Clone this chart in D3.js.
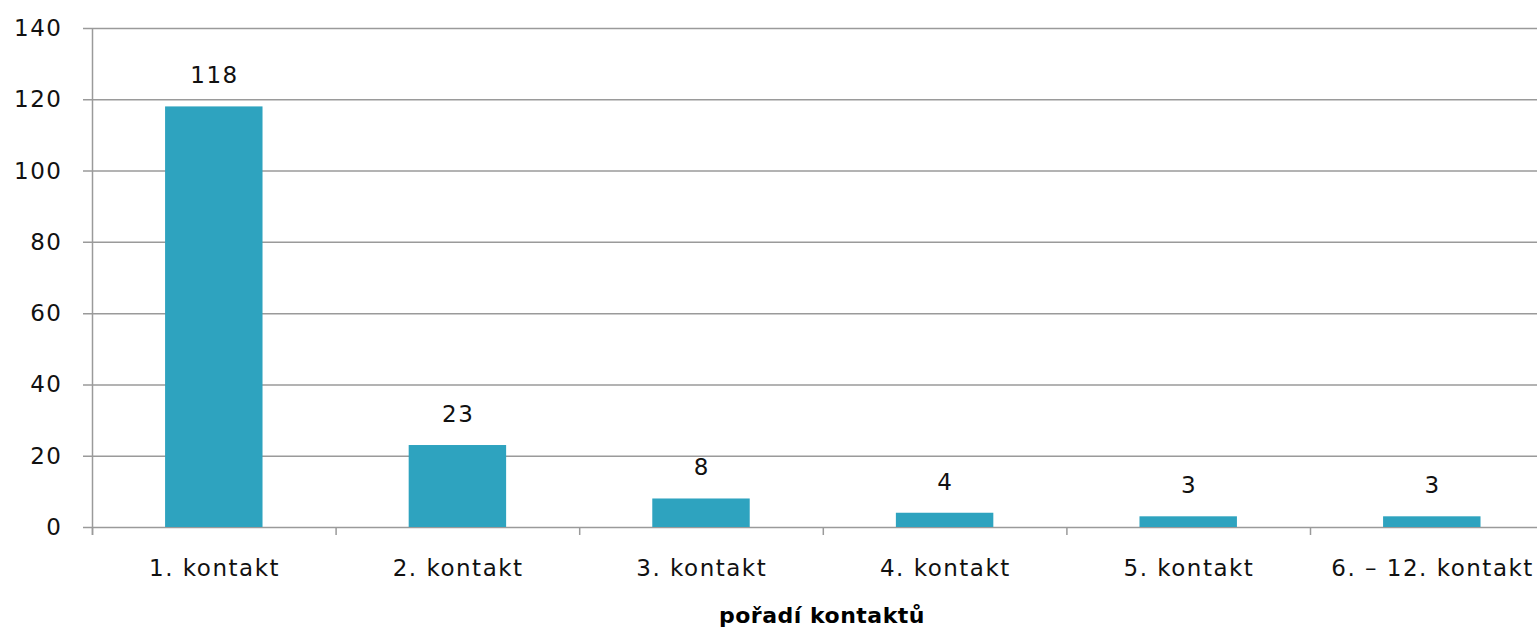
<!DOCTYPE html>
<html><head><meta charset="utf-8">
<script src="https://cdn.jsdelivr.net/npm/d3@7"></script>
<style>body{margin:0;background:#fff}svg{display:block}</style>
</head><body>
<svg id="c" width="1537" height="630"></svg>
<script>
const categories = ["1. kontakt","2. kontakt","3. kontakt","4. kontakt","5. kontakt","6. – 12. kontakt"];
const values = [118, 23, 8, 4, 3, 3];
const yTicks = [0, 20, 40, 60, 80, 100, 120, 140];
const xTitle = "pořadí kontaktů";

(function(){
const svg = d3.select("#c");
const mLeft = 92, mTop = 28, mBottom = 527, bandW = 243.6;
const mRight = mLeft + bandW * categories.length;
const font = "'DejaVu Sans', sans-serif";
const grey = "#9a9a9a";
const ls = 1.5;

const x = d3.scaleBand().domain(categories).range([mLeft, mRight]).paddingInner(0.6).paddingOuter(0.3);
const y = d3.scaleLinear().domain([0, 140]).range([mBottom, mTop]);

svg.append("g").selectAll("line").data(yTicks).join("line")
  .attr("x1", mLeft - 9).attr("x2", mRight)
  .attr("y1", d => y(d) + 0.5).attr("y2", d => y(d) + 0.5)
  .attr("stroke", grey).attr("stroke-width", 1.5);

svg.append("line").attr("x1", mLeft + 0.5).attr("x2", mLeft + 0.5)
  .attr("y1", mTop).attr("y2", mBottom + 8).attr("stroke", grey).attr("stroke-width", 1.5);

svg.append("g").selectAll("text").data(yTicks).join("text")
  .attr("x", 61 + ls).attr("y", d => y(d) + 8)
  .attr("text-anchor", "end").attr("font-family", font).attr("font-size", 23)
  .attr("letter-spacing", ls).attr("fill", "#111").text(d => d);

const bounds = d3.range(categories.length + 1).map(i => mLeft + i * bandW);
svg.append("g").selectAll("line").data(bounds).join("line")
  .attr("x1", d => d + 0.5).attr("x2", d => d + 0.5)
  .attr("y1", mBottom).attr("y2", mBottom + 8)
  .attr("stroke", grey).attr("stroke-width", 1.5);

svg.append("g").selectAll("rect").data(values).join("rect")
  .attr("x", (d, i) => x(categories[i])).attr("width", x.bandwidth())
  .attr("y", d => y(d)).attr("height", d => mBottom - y(d))
  .attr("fill", "#2ea3bf");

svg.append("g").selectAll("text").data(values).join("text")
  .attr("x", (d, i) => x(categories[i]) + x.bandwidth() / 2 + ls / 2)
  .attr("y", d => y(d) - 23)
  .attr("text-anchor", "middle").attr("font-family", font).attr("font-size", 23)
  .attr("letter-spacing", ls).attr("fill", "#111").text(d => d);

svg.append("g").selectAll("text").data(categories).join("text")
  .attr("x", d => x(d) + x.bandwidth() / 2 + ls / 2).attr("y", 576)
  .attr("text-anchor", "middle").attr("font-family", font).attr("font-size", 23)
  .attr("letter-spacing", ls).attr("fill", "#111").text(d => d);

svg.append("text").attr("x", 822).attr("y", 623)
  .attr("text-anchor", "middle").attr("font-family", font).attr("font-size", 22)
  .attr("letter-spacing", 0.5)
  .attr("font-weight", "bold").attr("fill", "#000").text(xTitle);
})();
</script>
</body></html>
